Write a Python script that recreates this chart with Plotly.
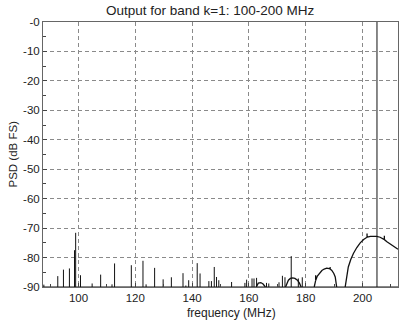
import plotly.graph_objects as go

# spurs: frequency (MHz) and level (dB FS), drawn up from the -90 floor
spike_freq = [87.8, 92.7, 94.7, 96.8, 98.6, 99.0, 100.7, 104.8, 107.8, 111.8,
              112.7, 118.6, 122.7, 123.8, 126.8, 129.8, 132.7, 136.8, 137.8, 138.8,
              141.8, 142.8, 145.9, 146.8, 147.8, 148.6, 149.4, 153.9, 158.6, 159.2,
              161.1, 161.8, 162.7, 166.2, 167.0, 170.6, 171.8, 172.7, 174.9, 177.4,
              178.8, 205.1]
spike_db = [-89.2, -86.3, -84.1, -83.7, -77.5, -71.6, -86.0, -88.8, -85.8, -89.1,
            -82.0, -82.6, -81.1, -89.1, -83.5, -87.4, -86.7, -85.3, -89.5, -87.7,
            -81.9, -85.4, -88.0, -88.0, -83.2, -86.6, -87.7, -88.3, -88.6, -87.5,
            -87.1, -87.1, -86.9, -88.6, -88.8, -88.4, -86.2, -86.7, -79.5, -87.1,
            -86.7, 0.0]

# leakage lobes
bump_freq = [162.6, 163.3, 164.2, 165.0, 165.8]
bump_db = [-90, -88.7, -88.5, -89.0, -90]

lobe1_freq = [172.9, 173.4, 173.9, 174.6, 175.4, 176.2, 177.1, 177.8, 178.4]
lobe1_db = [-90, -88.6, -87.7, -87.1, -86.9, -87.1, -87.7, -88.7, -90]

lobe2_freq = [183.0, 183.5, 183.5, 183.5, 184.1, 184.9, 185.7, 186.5, 187.4, 188.3,
              188.6, 188.6, 188.6, 189.2, 189.9, 190.4, 190.9]
lobe2_db = [-90, -87.8, -86.0, -87.8, -86.3, -85.2, -84.4, -83.9, -83.6, -83.8,
            -83.9, -83.2, -83.9, -84.4, -85.4, -86.6, -90]

lobe3_freq = [193.9, 194.4, 195.0, 195.9, 196.8, 198.0, 199.2, 200.4, 201.6, 201.6,
              201.6, 202.8, 203.9, 205.0, 206.2, 207.4, 207.7, 207.7, 207.7, 208.6,
              209.8, 210.9, 212.5]
lobe3_db = [-90, -86.0, -83.2, -80.6, -78.6, -76.6, -75.0, -73.9, -73.1, -71.8,
            -73.1, -72.8, -72.7, -72.8, -73.1, -73.8, -73.9, -72.6, -73.9, -74.6,
            -75.4, -76.1, -77.2]

y_ticks = [0, -10, -20, -30, -40, -50, -60, -70, -80, -90]
y_labels = ['-0', '-10', '-20', '-30', '-40', '-50', '-60', '-70', '-80', '-90']
x_ticks = [100, 120, 140, 160, 180, 200]

FONT = 'Liberation Sans, Arial, sans-serif'
INK = '#111111'

fig = go.Figure()

# spurs as vertical segments from the floor
sx, sy = [], []
for f, v in zip(spike_freq, spike_db):
    sx += [f, f, None]
    sy += [-90, v, None]
fig.add_trace(go.Scatter(x=sx, y=sy, mode='lines',
                         line=dict(color=INK, width=1)))

for fx, fy in [(bump_freq, bump_db), (lobe1_freq, lobe1_db),
               (lobe2_freq, lobe2_db), (lobe3_freq, lobe3_db)]:
    fig.add_trace(go.Scatter(x=fx, y=fy, mode='lines',
                             line=dict(color=INK, width=1.3)))

# floor line
fig.add_trace(go.Scatter(x=[87.5, 212.5], y=[-90, -90], mode='lines',
                         line=dict(color=INK, width=1)))

grid = dict(showgrid=True, gridcolor='#8a8a8a', gridwidth=1, griddash='4px,3px')

fig.update_layout(
    width=399, height=321,
    margin=dict(l=43, r=1, t=22, b=34),
    paper_bgcolor='white', plot_bgcolor='white',
    showlegend=False, hovermode=False,
    font=dict(family=FONT, size=11.5, color='#222222'),
    xaxis=dict(range=[87.5, 212.5], tickvals=x_ticks, ticks='inside', ticklen=4,
               tickcolor='#444', showline=True, mirror=True, linecolor='#666',
               linewidth=1, zeroline=False,
               minor=dict(dtick=10, tick0=0, ticks='inside', ticklen=3,
                          tickcolor='#444', showgrid=False),
               **grid),
    yaxis=dict(range=[-90, 0], tickvals=y_ticks, ticktext=y_labels, ticks='inside',
               ticklen=4, tickcolor='#444', showline=True, mirror=True,
               linecolor='#666', linewidth=1, zeroline=False,
               minor=dict(dtick=5, tick0=0, ticks='inside', ticklen=3,
                          tickcolor='#444', showgrid=False),
               **grid),
    annotations=[
        dict(text='Output for band k=1: 100-200 MHz', xref='paper', yref='paper',
             x=(210 - 43) / 355, y=1, yshift=12, showarrow=False,
             font=dict(size=13.5, color='#222222'), xanchor='center', yanchor='middle'),
        dict(text='frequency (MHz)', xref='paper', yref='paper',
             x=(231 - 43) / 355, y=0, yshift=-26, showarrow=False,
             font=dict(size=12, color='#222222'), xanchor='center', yanchor='middle'),
        dict(text='PSD (dB FS)', xref='paper', yref='paper',
             x=0, xshift=-31, y=0.5, showarrow=False, textangle=-90,
             font=dict(size=11.5, color='#222222'), xanchor='center', yanchor='middle'),
    ],
)

# page body has a default margin; remove it so the figure sits at the corner
fig.write_html('out.html', config={'displayModeBar': False},
               post_script="document.body.style.margin='0';")
